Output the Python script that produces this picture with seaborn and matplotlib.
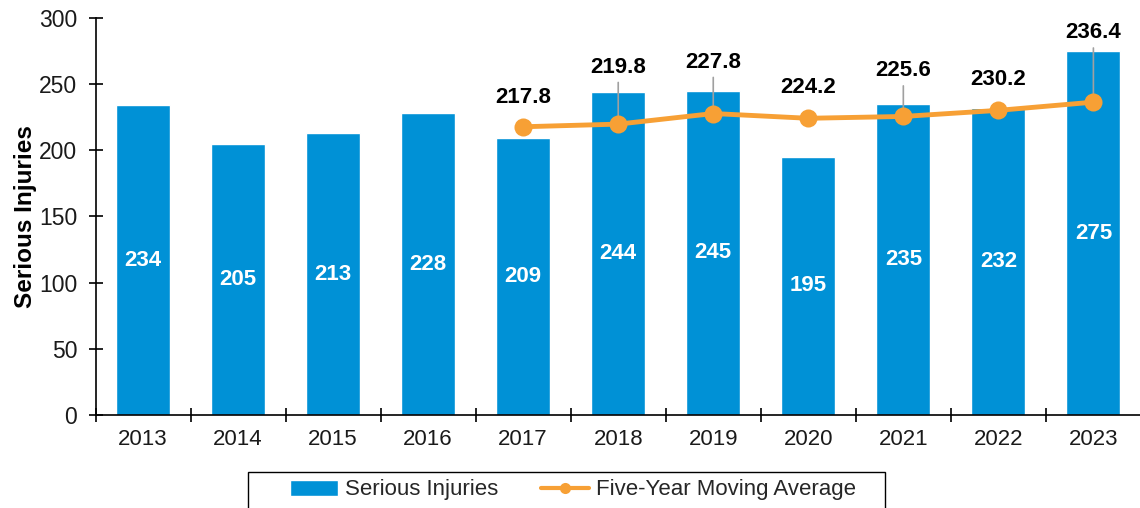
import matplotlib
matplotlib.use("Agg")
import matplotlib.pyplot as plt
from matplotlib.patches import Rectangle
from matplotlib.ticker import FixedLocator, MultipleLocator
import seaborn as sns
import pandas as pd

# Annual serious injuries and the trailing five-year moving average
years = ["2013", "2014", "2015", "2016", "2017", "2018",
         "2019", "2020", "2021", "2022", "2023"]
serious_injuries = [234, 205, 213, 228, 209, 244, 245, 195, 235, 232, 275]
ma_years = ["2017", "2018", "2019", "2020", "2021", "2022", "2023"]
moving_average = [217.8, 219.8, 227.8, 224.2, 225.6, 230.2, 236.4]

# Vertical offset (points) of each average label above its marker, and
# whether a thin leader line ties the label back to the marker
label_offsets = [21, 41, 37, 22, 33, 22, 50]
leader_lines = [False, True, True, False, True, False, True]

BAR = "#0091D6"
ORANGE = "#F7A035"

sns.set_theme(style="white")
plt.rcParams["font.family"] = ["Liberation Sans", "DejaVu Sans"]

fig = plt.figure(figsize=(11.40, 5.08), dpi=100)
ax = fig.add_axes([0.0838, 0.1831, 0.9170, 0.7815])

bars_df = pd.DataFrame({"Year": years, "Serious Injuries": serious_injuries})
sns.barplot(data=bars_df, x="Year", y="Serious Injuries", color=BAR,
            saturation=1, width=0.57, ax=ax, label="Serious Injuries")

# Moving-average line drawn on the same categorical positions
pos = [years.index(y) for y in ma_years]
line_df = pd.DataFrame({"pos": pos, "ma": moving_average})
sns.lineplot(data=line_df, x="pos", y="ma", color=ORANGE, lw=3.5,
             marker="o", markersize=13, markeredgewidth=0, ax=ax,
             label="Five-Year Moving Average")

# White value labels centred in each bar
for i, v in enumerate(serious_injuries):
    ax.text(i, v / 2, f"{v}", ha="center", va="center", color="white",
            fontsize=16, fontweight="bold")

# Bold average labels above the markers
for p, v, off, lead in zip(pos, moving_average, label_offsets, leader_lines):
    ax.annotate(f"{v:.1f}", xy=(p, v), xytext=(0, off),
                textcoords="offset points", ha="center", va="center",
                fontsize=16, fontweight="bold", color="black",
                annotation_clip=False)
    if lead:
        ax.annotate("", xy=(p, v), xytext=(0, off - 11),
                    textcoords="offset points",
                    arrowprops=dict(arrowstyle="-", color="#A0A0A0", lw=1.2,
                                    shrinkA=0, shrinkB=0),
                    zorder=1.5)

ax.set_ylim(0, 300)
ax.set_xlim(-0.5, len(years) - 0.5)
ax.yaxis.set_major_locator(MultipleLocator(50))

# Category boundaries carry the x tick marks; labels sit between them
ax.xaxis.set_minor_locator(FixedLocator([i - 0.5 for i in range(len(years) + 1)]))
ax.tick_params(axis="x", which="major", length=0, pad=10, labelsize=16,
               labelcolor="#1a1a1a")
ax.tick_params(axis="x", which="minor", direction="inout", length=9.5,
               width=1.2, color="black", bottom=True)
ax.tick_params(axis="y", which="major", direction="inout", length=9.5,
               width=1.2, color="black", left=True, labelsize=16.5,
               labelcolor="#1a1a1a", pad=8.5)

ax.set_xlabel("")
ax.set_ylabel("Serious Injuries", fontsize=17.5, fontweight="bold",
              color="black", labelpad=1.5)

for side in ["top", "right"]:
    ax.spines[side].set_visible(False)
for side in ["left", "bottom"]:
    ax.spines[side].set_color("black")
    ax.spines[side].set_linewidth(1.2)

if ax.legend_:
    ax.legend_.remove()
handles, labels = ax.get_legend_handles_labels()
order = [labels.index("Serious Injuries"), labels.index("Five-Year Moving Average")]
handles = [handles[i] for i in order]
labels = [labels[i] for i in order]

# Legend frame running off the bottom edge of the figure
fig.patches.append(Rectangle((248 / 1140, -0.05), (885 - 248) / 1140,
                             0.05 + (508 - 472) / 508,
                             transform=fig.transFigure, fill=False,
                             edgecolor="black", lw=1.0))
leg = fig.legend(handles, labels, loc="center", ncol=2,
                 bbox_to_anchor=(573 / 1140, 1 - 490 / 508), fontsize=16,
                 frameon=False, handlelength=2.15, handletextpad=0.3,
                 columnspacing=1.95, borderpad=0, borderaxespad=0)
line_handle = leg.legend_handles[1]
line_handle.set_markersize(8)
line_handle.set_linewidth(3)

fig.savefig("out.png", dpi=100)
